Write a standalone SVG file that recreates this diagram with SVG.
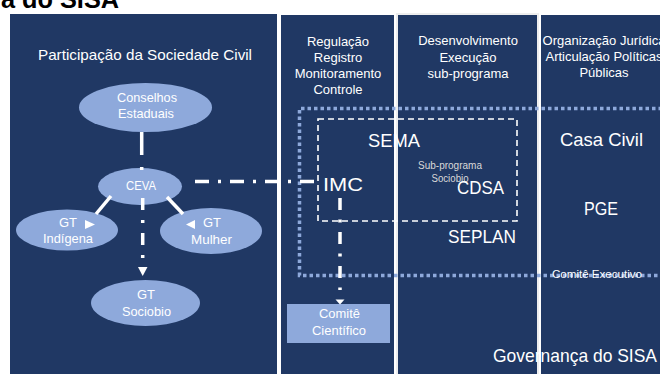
<svg xmlns="http://www.w3.org/2000/svg" width="660" height="374" viewBox="0 0 660 374">
<style>
.panel{fill:#203864}
.t{font-family:"Liberation Sans",Arial,sans-serif;fill:#ffffff;text-anchor:middle}
.hd{font-size:13px}
.big{font-size:18.5px}
.el{fill:#8EA9DB}
.et{font-size:13px}
.dd{fill:none;stroke:#ffffff;stroke-width:3.5}
.ah{fill:#ffffff}
</style>
<rect x="0" y="0" width="660" height="374" fill="#ffffff"/>
<text x="1" y="8" font-family="'Liberation Sans',Arial,sans-serif" font-weight="bold" font-size="25" fill="#000000" textLength="118" lengthAdjust="spacingAndGlyphs">a do SISA</text>

<g id="panels">
<rect x="396" y="13" width="143" height="361" fill="#eeeeee"/>
<rect class="panel" x="10" y="14" width="267" height="360"/>
<rect class="panel" x="281" y="15" width="113" height="359"/>
<rect class="panel" x="398" y="15" width="139" height="359"/>
<rect class="panel" x="541" y="15" width="119" height="359"/>
</g>

<g id="headers">
<text class="t" x="145" y="60" font-size="15" textLength="214" lengthAdjust="spacingAndGlyphs">Participação da Sociedade Civil</text>
<text class="t hd" x="338" y="46">Regulação</text>
<text class="t hd" x="338" y="62">Registro</text>
<text class="t hd" x="338" y="78">Monitoramento</text>
<text class="t hd" x="338" y="94">Controle</text>
<text class="t hd" x="468" y="45">Desenvolvimento</text>
<text class="t hd" x="468" y="61.5">Execução</text>
<text class="t hd" x="468" y="77.5">sub-programa</text>
<text class="t hd" x="604" y="45">Organização Jurídica</text>
<text class="t hd" x="604" y="61">Articulação Políticas</text>
<text class="t hd" x="604" y="77">Públicas</text>
</g>

<g id="comite-executivo">
<path d="M662 108.5 H299.5 V275.5 H662" fill="none" stroke="#8EA9DB" stroke-width="3.5" stroke-dasharray="3.5 3"/>
<text class="t" x="597" y="278" font-size="11" textLength="90" lengthAdjust="spacingAndGlyphs">Comitê Executivo</text>
</g>

<g id="subprograma">
<rect x="318" y="119" width="199" height="102" fill="none" stroke="#ffffff" stroke-width="1.6" stroke-dasharray="6 4"/>
<text class="t" x="450" y="169" font-size="10" style="fill:#d9d9d9" textLength="64" lengthAdjust="spacingAndGlyphs">Sub-programa</text>
<text class="t" x="450" y="182" font-size="10" style="fill:#d9d9d9" textLength="37" lengthAdjust="spacingAndGlyphs">Sociobio</text>
</g>

<g id="conselhos">
<ellipse class="el" cx="145.5" cy="107.5" rx="66.5" ry="24.5"/>
<text class="t et" x="147" y="102" textLength="60" lengthAdjust="spacingAndGlyphs">Conselhos</text>
<text class="t et" x="146" y="118" textLength="56" lengthAdjust="spacingAndGlyphs">Estaduais</text>
</g>
<g id="ceva">
<ellipse class="el" cx="140" cy="186.5" rx="42" ry="18.5"/>
<text class="t et" x="141" y="190" textLength="30" lengthAdjust="spacingAndGlyphs">CEVA</text>
</g>
<g id="gt-indigena">
<ellipse class="el" cx="67" cy="230" rx="51" ry="20.5"/>
<text class="t et" x="68" y="227">GT</text>
<text class="t et" x="68" y="243" textLength="50" lengthAdjust="spacingAndGlyphs">Indígena</text>
</g>
<g id="gt-mulher">
<ellipse class="el" cx="211" cy="231" rx="51" ry="23"/>
<text class="t et" x="212" y="227">GT</text>
<text class="t et" x="211.5" y="244" textLength="41" lengthAdjust="spacingAndGlyphs">Mulher</text>
</g>
<g id="gt-sociobio">
<ellipse class="el" cx="145.5" cy="303" rx="54.5" ry="23"/>
<text class="t et" x="146" y="299">GT</text>
<text class="t et" x="146.5" y="316" textLength="49" lengthAdjust="spacingAndGlyphs">Sociobio</text>
</g>
<g id="comite-cientifico">
<rect class="el" x="287" y="304" width="103" height="39"/>
<text class="t et" x="339.5" y="318" textLength="41" lengthAdjust="spacingAndGlyphs">Comitê</text>
<text class="t et" x="339" y="335" textLength="54" lengthAdjust="spacingAndGlyphs">Científico</text>
</g>

<g id="connectors">
<line class="dd" x1="141.7" y1="132" x2="141.7" y2="170" stroke-dasharray="23 12 3 10"/>
<line class="dd" x1="111" y1="196" x2="96" y2="214"/>
<polygon class="ah" points="85,220 85,229 95,224.5"/>
<line class="dd" x1="167" y1="197" x2="183" y2="214"/>
<polygon class="ah" points="195,220 195,229 186,224.5"/>
<line class="dd" x1="142.7" y1="198" x2="142.7" y2="259" stroke-dasharray="12 10 3 10"/>
<polygon class="ah" points="138,267 147.5,267 142.7,276"/>
<line class="dd" x1="195" y1="181.5" x2="323" y2="181.5" stroke-dasharray="14 9 3 9"/>
<line class="dd" x1="340" y1="198" x2="340" y2="290" stroke-width="3.3" stroke-dasharray="12 9.5 3 9.5"/>
<polygon class="ah" points="335.5,299.5 344.5,299.5 340,304.5"/>
</g>

<g id="imc"><text class="t big" x="343" y="191" textLength="40" lengthAdjust="spacingAndGlyphs">IMC</text></g>
<g id="sema"><text class="t big" x="394" y="147" textLength="52" lengthAdjust="spacingAndGlyphs">SEMA</text></g>
<g id="cdsa"><text class="t big" x="480.5" y="194" textLength="47" lengthAdjust="spacingAndGlyphs">CDSA</text></g>
<g id="seplan"><text class="t big" x="482" y="243" textLength="68" lengthAdjust="spacingAndGlyphs">SEPLAN</text></g>
<g id="casa-civil"><text class="t big" x="601.5" y="146" textLength="83" lengthAdjust="spacingAndGlyphs">Casa Civil</text></g>
<g id="pge"><text class="t big" x="601" y="215" textLength="34" lengthAdjust="spacingAndGlyphs">PGE</text></g>
<g id="governanca"><text class="t" x="575" y="362" font-size="19" textLength="164" lengthAdjust="spacingAndGlyphs">Governança do SISA</text></g>
</svg>
